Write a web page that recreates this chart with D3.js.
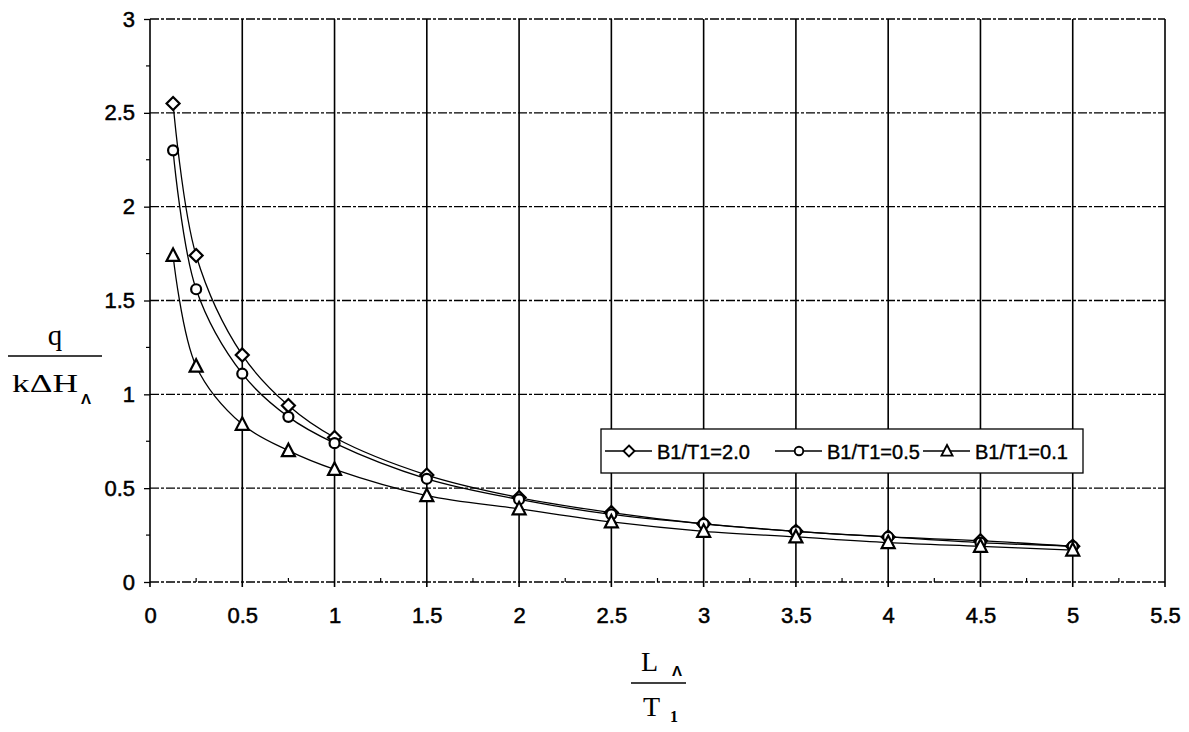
<!DOCTYPE html>
<html>
<head>
<meta charset="utf-8">
<script src="https://cdn.jsdelivr.net/npm/d3@7/dist/d3.min.js"></script>
<style>
  html, body { margin: 0; padding: 0; background: #fff; }
  svg { display: block; }
  .tick text { font-family: "Liberation Sans", Arial, sans-serif; font-size: 22px; fill: #000; stroke: #000; stroke-width: 0.5px; }
</style>
</head>
<body>
<svg id="chart" width="1189" height="732"></svg>
<script>
// Dimensionless flow vs. relative length, three width ratios
const ratioLA = [0.125, 0.25, 0.5, 0.75, 1, 1.5, 2, 2.5, 3, 3.5, 4, 4.5, 5];
const qB20 = [2.55, 1.74, 1.21, 0.94, 0.77, 0.57, 0.45, 0.37, 0.31, 0.27, 0.24, 0.22, 0.19];
const qB05 = [2.30, 1.56, 1.11, 0.88, 0.74, 0.55, 0.44, 0.36, 0.31, 0.27, 0.24, 0.21, 0.19];
const qB01 = [1.74, 1.15, 0.84, 0.70, 0.60, 0.46, 0.39, 0.32, 0.27, 0.24, 0.21, 0.19, 0.17];
const seriesNames = ["B1/T1=2.0", "B1/T1=0.5", "B1/T1=0.1"];
const seriesMarkers = ["diamond", "circle", "triangle"];
const xTicks = [0, 0.5, 1, 1.5, 2, 2.5, 3, 3.5, 4, 4.5, 5, 5.5];
const yTicks = [0, 0.5, 1, 1.5, 2, 2.5, 3];

const series = [qB20, qB05, qB01].map((vals, i) => ({
  name: seriesNames[i],
  marker: seriesMarkers[i],
  points: vals.map((v, j) => ({ x: ratioLA[j], y: v }))
}));

const svg = d3.select("#chart");
const m = { left: 150, top: 19, right: 1165, bottom: 582 };
const x = d3.scaleLinear().domain([0, 5.5]).range([m.left, m.right]);
const y = d3.scaleLinear().domain([0, 3]).range([m.bottom, m.top]);

// horizontal gridlines (dash-dot)
svg.append("g").selectAll("line").data(yTicks).join("line")
  .attr("x1", m.left).attr("x2", m.right)
  .attr("y1", d => y(d)).attr("y2", d => y(d))
  .attr("stroke", "#000").attr("stroke-width", 1.3)
  .attr("stroke-dasharray", "9,2,3,2");

// vertical gridlines (solid)
svg.append("g").selectAll("line").data(xTicks).join("line")
  .attr("x1", d => x(d)).attr("x2", d => x(d))
  .attr("y1", m.top).attr("y2", m.bottom + 5)
  .attr("stroke", "#000").attr("stroke-width", 1.6);

// y axis with minor ticks
const yAxis = d3.axisLeft(y).tickValues(yTicks).tickSize(6).tickPadding(9)
  .tickFormat(d => String(d));
const gy = svg.append("g").attr("transform", `translate(${m.left},0)`).call(yAxis);
gy.select(".domain").remove();
gy.selectAll(".tick line").attr("stroke-width", 1.3);
svg.append("g").selectAll("line").data(d3.range(0.25, 3, 0.5)).join("line")
  .attr("x1", m.left - 4).attr("x2", m.left)
  .attr("y1", d => y(d)).attr("y2", d => y(d))
  .attr("stroke", "#000").attr("stroke-width", 1.2);

// x axis with minor ticks
const xAxis = d3.axisBottom(x).tickValues(xTicks).tickSize(0).tickPadding(25)
  .tickFormat(d => String(d));
const gx = svg.append("g").attr("transform", `translate(0,${m.bottom})`).call(xAxis);
gx.select(".domain").remove();
svg.append("g").selectAll("line").data(d3.range(0.25, 5.5, 0.5)).join("line")
  .attr("x1", d => x(d)).attr("x2", d => x(d))
  .attr("y1", m.bottom - 4).attr("y2", m.bottom)
  .attr("stroke", "#000").attr("stroke-width", 1.2);

// curves
const line = d3.line().x(d => x(d.x)).y(d => y(d.y)).curve(d3.curveCatmullRom.alpha(0.5));
svg.append("g").selectAll("path").data(series).join("path")
  .attr("d", d => line(d.points))
  .attr("fill", "none").attr("stroke", "#000").attr("stroke-width", 1.3);

// marker shapes
function drawMarker(g, type) {
  if (type === "diamond") {
    g.append("path").attr("d", "M0,-6.5L6.5,0L0,6.5L-6.5,0Z");
  } else if (type === "circle") {
    g.append("circle").attr("r", 5);
  } else {
    g.append("path").attr("d", "M0,-7L6.5,5.5L-6.5,5.5Z");
  }
  g.selectAll("path,circle").attr("fill", "#fff").attr("stroke", "#000").attr("stroke-width", 2.2);
}

series.forEach(s => {
  s.points.forEach(p => {
    const g = svg.append("g").attr("transform", `translate(${x(p.x)},${y(p.y)})`);
    drawMarker(g, s.marker);
  });
});

// legend
const lgLeft = 601, lgTop = 429;
const lg = svg.append("g").attr("transform", `translate(${lgLeft},${lgTop})`);
lg.append("rect").attr("width", 482).attr("height", 44)
  .attr("fill", "#fff").attr("stroke", "#000").attr("stroke-width", 1.3);
const legendLineX = [4, 174, 322];
series.forEach((s, i) => {
  const item = lg.append("g").attr("transform", `translate(${legendLineX[i]},22)`);
  item.append("line").attr("x1", 0).attr("x2", 47).attr("y1", 0).attr("y2", 0)
    .attr("stroke", "#000").attr("stroke-width", 1.3);
  const mk = item.append("g").attr("transform", "translate(24,0)");
  drawMarker(mk, s.marker);
  mk.selectAll("path,circle").attr("transform", "scale(0.85)");
  item.append("text").attr("x", 52).attr("y", 8)
    .attr("font-family", "'Liberation Sans', Arial, sans-serif").attr("font-size", 20)
    .attr("stroke", "#000").attr("stroke-width", 0.4)
    .text(s.name);
});

// axis titles as stacked fractions
const serif = "'Liberation Serif', 'Times New Roman', serif";
const yt = svg.append("g");
yt.append("text").attr("x", 55).attr("y", 345).attr("text-anchor", "middle")
  .attr("font-family", serif).attr("font-size", 29).text("q");
yt.append("line").attr("x1", 8).attr("x2", 102).attr("y1", 356).attr("y2", 356)
  .attr("stroke", "#000").attr("stroke-width", 1.3);
yt.append("text").attr("x", 12).attr("y", 392)
  .attr("font-family", serif).attr("font-size", 25)
  .attr("textLength", 66).attr("lengthAdjust", "spacingAndGlyphs").text("kΔH");
yt.append("text").attr("x", 86).attr("y", 404).attr("text-anchor", "middle")
  .attr("font-family", "'Liberation Sans', Arial, sans-serif").attr("font-size", 15)
  .attr("font-weight", "bold").text("Λ");

const xt = svg.append("g");
xt.append("text").attr("x", 641).attr("y", 671)
  .attr("font-family", serif).attr("font-size", 28).text("L");
xt.append("text").attr("x", 677).attr("y", 676).attr("text-anchor", "middle")
  .attr("font-family", "'Liberation Sans', Arial, sans-serif").attr("font-size", 15)
  .attr("font-weight", "bold").text("Λ");
xt.append("line").attr("x1", 631).attr("x2", 686).attr("y1", 683).attr("y2", 683)
  .attr("stroke", "#000").attr("stroke-width", 1.3);
xt.append("text").attr("x", 643).attr("y", 716)
  .attr("font-family", serif).attr("font-size", 28).text("T");
xt.append("text").attr("x", 670).attr("y", 722)
  .attr("font-family", serif).attr("font-size", 16).attr("font-weight", "bold").text("1");
</script>
</body>
</html>
